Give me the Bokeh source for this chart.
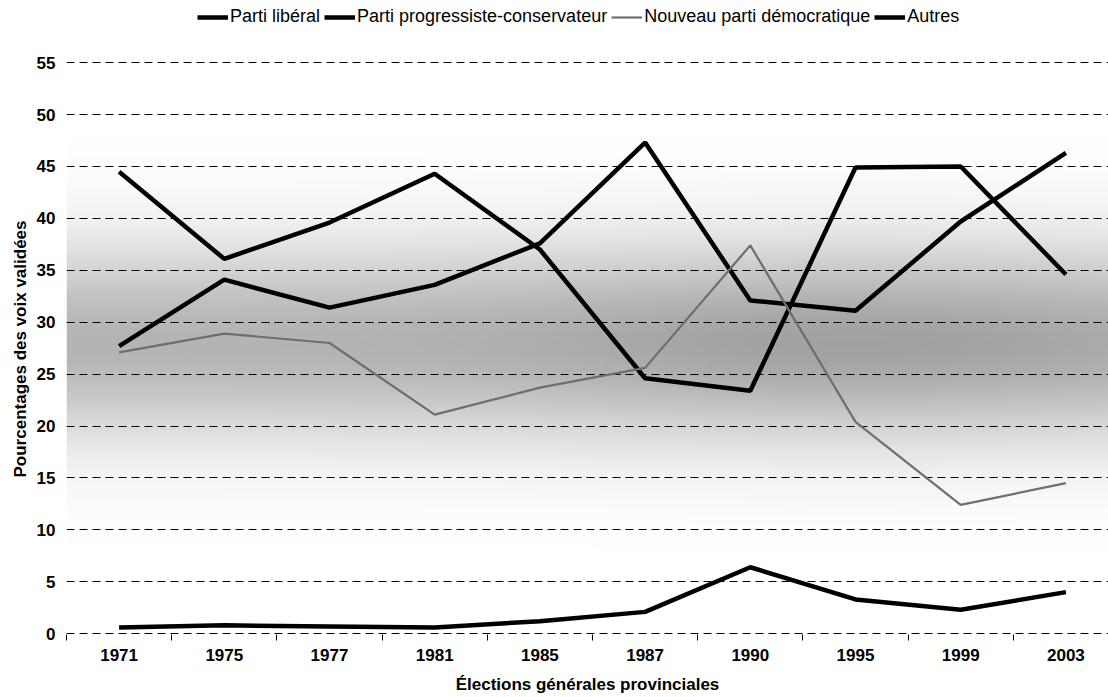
import numpy as np
from bokeh.plotting import figure
from bokeh.models import Range1d, FixedTicker, Legend, LegendItem, Title
from bokeh.embed import file_html
from bokeh.resources import INLINE

years = ["1971", "1975", "1977", "1981", "1985", "1987", "1990", "1995", "1999", "2003"]
liberal = [27.7, 34.1, 31.4, 33.6, 37.6, 47.3, 32.1, 31.1, 39.7, 46.3]
pc = [44.5, 36.1, 39.6, 44.3, 37.0, 24.6, 23.4, 44.9, 45.0, 34.6]
ndp = [27.1, 28.9, 28.0, 21.1, 23.7, 25.6, 37.4, 20.4, 12.4, 14.5]
autres = [0.6, 0.8, 0.7, 0.6, 1.2, 2.1, 6.4, 3.3, 2.3, 4.0]
y_ticks = [0, 5, 10, 15, 20, 25, 30, 35, 40, 45, 50, 55]

xs = list(range(1, len(years) + 1))
FONT = "Liberation Sans"
PX_X = 105.2   # pixels per category
PX_Y = 10.382  # pixels per percentage point
X_END = 0.5 + (1108 - 66) / PX_X
Y_START = -0.08
Y_END = Y_START + 634 / PX_Y

p = figure(width=1108, height=697, output_backend="svg", toolbar_location=None,
           x_range=Range1d(0.5, X_END), y_range=Range1d(Y_START, Y_END),
           min_border_left=66, min_border_right=0, min_border_top=0, min_border_bottom=63)
p.outline_line_color = None
p.background_fill_color = "white"
p.border_fill_color = "white"

# background shading (decorative)
nx, ny = 200, 220
gx = np.linspace(0.5, X_END, nx)
gy = np.linspace(Y_START, 55.0, ny)
GX, GY = np.meshgrid(gx, gy)
alpha = 0.37 * np.exp(-((GY - 28.0) / 9.5) ** 2) * (0.8 + 0.2 * np.exp(-((GX - 8.0) / 3.0) ** 2))
img = np.zeros((ny, nx), dtype=np.uint32)
view = img.view(dtype=np.uint8).reshape((ny, nx, 4))
view[:, :, 3] = (alpha * 255).astype(np.uint8)
bg = p.image_rgba(image=[img], x=0.5, y=Y_START, dw=X_END - 0.5, dh=55.0 - Y_START)
bg.level = "image"

# grid
p.xgrid.grid_line_color = None
p.ygrid.ticker = FixedTicker(ticks=y_ticks)
p.ygrid.grid_line_color = "black"
p.ygrid.grid_line_dash = "8 5"
p.ygrid.grid_line_width = 1

r_lib = p.line(xs, liberal, line_color="black", line_width=4.5)
r_pc = p.line(xs, pc, line_color="black", line_width=4.5)
r_ndp = p.line(xs, ndp, line_color="#6e6e6e", line_width=2.2)
r_aut = p.line(xs, autres, line_color="black", line_width=4.5)

# axes
xa = p.xaxis[0]
xa.ticker = FixedTicker(ticks=xs, minor_ticks=[x + 0.5 for x in range(0, len(years) + 1)])
xa.major_label_overrides = {x: y for x, y in zip(xs, years)}
xa.axis_line_color = None
xa.major_tick_line_color = None
xa.major_tick_out = 5
xa.major_tick_in = 0
xa.minor_tick_line_color = "black"
xa.minor_tick_out = 6
xa.minor_tick_in = 0
xa.major_label_standoff = 8
xa.major_label_text_font = FONT
xa.major_label_text_font_style = "bold"
xa.major_label_text_font_size = "17px"
xa.major_label_text_color = "black"
xa.axis_label = "Élections générales provinciales"
xa.axis_label_text_font = FONT
xa.axis_label_text_font_style = "bold"
xa.axis_label_text_font_size = "17px"
xa.axis_label_text_color = "black"
xa.axis_label_standoff = 11

ya = p.yaxis[0]
ya.ticker = FixedTicker(ticks=y_ticks)
ya.axis_line_color = None
ya.major_tick_line_color = None
ya.minor_tick_line_color = None
ya.major_tick_out = 0
ya.major_tick_in = 0
ya.major_label_standoff = 11
ya.major_label_text_font = FONT
ya.major_label_text_font_style = "bold"
ya.major_label_text_font_size = "17px"
ya.major_label_text_color = "black"

ytitle = Title(text="Pourcentages des voix validées", align="left", offset=157,
               text_font=FONT, text_font_style="bold", text_font_size="17px",
               text_color="black", standoff=8)
p.add_layout(ytitle, "left")

legend = Legend(items=[
    LegendItem(label="Parti libéral", renderers=[r_lib]),
    LegendItem(label="Parti progressiste-conservateur", renderers=[r_pc]),
    LegendItem(label="Nouveau parti démocratique", renderers=[r_ndp]),
    LegendItem(label="Autres", renderers=[r_aut]),
], orientation="horizontal", location=(131, 607))
legend.border_line_color = None
legend.background_fill_alpha = 0
legend.padding = 0
legend.margin = 0
legend.spacing = 4
legend.glyph_width = 31
legend.glyph_height = 18
legend.label_height = 18
legend.label_standoff = 2
legend.label_text_font = FONT
legend.label_text_font_size = "18px"
legend.label_text_color = "black"
p.add_layout(legend, "center")

open("out.html", "w").write(file_html(p, INLINE))
